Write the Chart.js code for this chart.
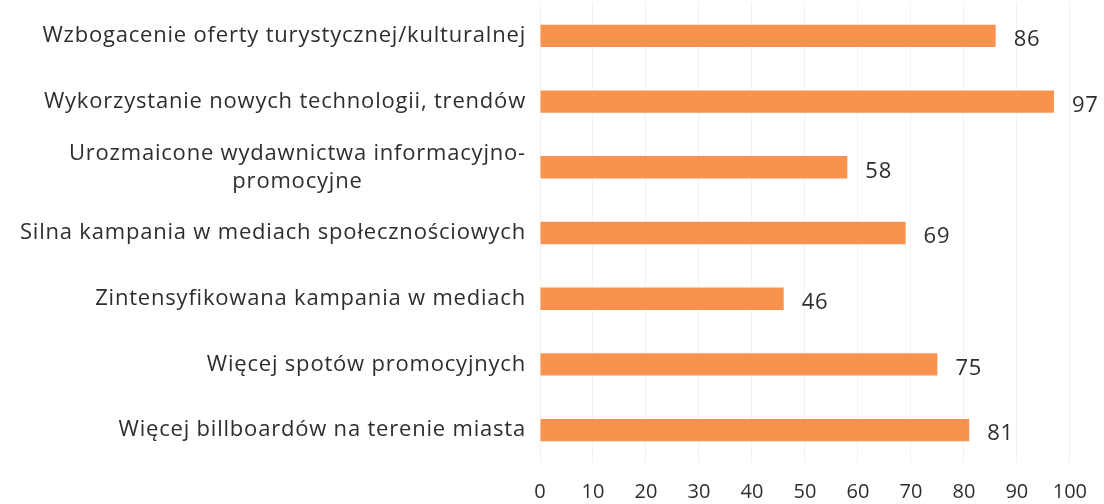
<!DOCTYPE html>
<html>
<head>
<meta charset="utf-8">
<script src="https://cdn.jsdelivr.net/npm/chart.js@4.4.0/dist/chart.umd.min.js"></script>
<style>
  html, body { margin: 0; padding: 0; background: #fff; }
  #wrap { width: 1104px; height: 504px; }
</style>
</head>
<body>
<div id="wrap"><canvas id="myChart" width="1104" height="504"></canvas></div>
<script>
const categories = [
  ["Wzbogacenie oferty turystycznej/kulturalnej"],
  ["Wykorzystanie nowych technologii, trendów"],
  ["Urozmaicone wydawnictwa informacyjno-", "promocyjne"],
  ["Silna kampania w mediach społecznościowych"],
  ["Zintensyfikowana kampania w mediach"],
  ["Więcej spotów promocyjnych"],
  ["Więcej billboardów na terenie miasta"]
];
const values = [86, 97, 58, 69, 46, 75, 81];
const xTicks = [0, 10, 20, 30, 40, 50, 60, 70, 80, 90, 100];

const fontFamily = "'Open Sans', sans-serif";
const textColor = "#2e2e2e";

// draws category labels (right aligned block, lines centered) and value labels
const labelPlugin = {
  id: "labelPlugin",
  afterDraw(chart) {
    const ctx = chart.ctx;
    const yScale = chart.scales.y;
    const meta = chart.getDatasetMeta(0);
    ctx.save();
    ctx.fillStyle = textColor;
    ctx.font = "22px " + fontFamily;
    ctx.letterSpacing = "0.8px";
    ctx.textBaseline = "middle";
    const right = chart.chartArea.left - 14;
    const lineH = 28;
    categories.forEach(function (lines, i) {
      const y = yScale.getPixelForValue(i);
      const widths = lines.map(function (l) { return ctx.measureText(l).width; });
      const maxW = Math.max.apply(null, widths);
      const center = right - maxW / 2;
      lines.forEach(function (l, j) {
        const ly = y + (j - (lines.length - 1) / 2) * lineH;
        ctx.textAlign = "center";
        ctx.fillText(l, center, ly);
      });
    });
    ctx.textAlign = "left";
    meta.data.forEach(function (bar, i) {
      ctx.fillText(values[i], bar.x + 18, bar.y + 4);
    });
    ctx.restore();
  }
};

const ctx = document.getElementById("myChart").getContext("2d");
const myChart = new Chart(ctx, {
  type: "bar",
  data: {
    labels: categories.map(function (c) { return c.join(" "); }),
    datasets: [
      {
        data: values,
        backgroundColor: "#F9924E",
        borderWidth: 0,
        barPercentage: 0.34,
        categoryPercentage: 1
      }
    ]
  },
  options: {
    indexAxis: "y",
    responsive: false,
    animation: false,
    layout: { padding: { top: 3, right: 17, bottom: 0, left: 0 } },
    plugins: {
      legend: { display: false },
      tooltip: { enabled: false }
    },
    scales: {
      x: {
        min: 0,
        max: 100,
        afterBuildTicks(scale) {
          scale.ticks = xTicks.map(function (v) { return { value: v }; });
        },
        afterFit(scale) { scale.height = 41; },
        grid: { color: "rgba(0,0,0,0.05)", drawTicks: false },
        border: { display: false },
        ticks: {
          color: textColor,
          padding: 17,
          font: { family: fontFamily, size: 20 }
        }
      },
      y: {
        grid: { display: false },
        border: { display: false },
        ticks: { display: false },
        afterFit(scale) { scale.width = 540; }
      }
    }
  },
  plugins: [labelPlugin]
});
</script>
</body>
</html>
